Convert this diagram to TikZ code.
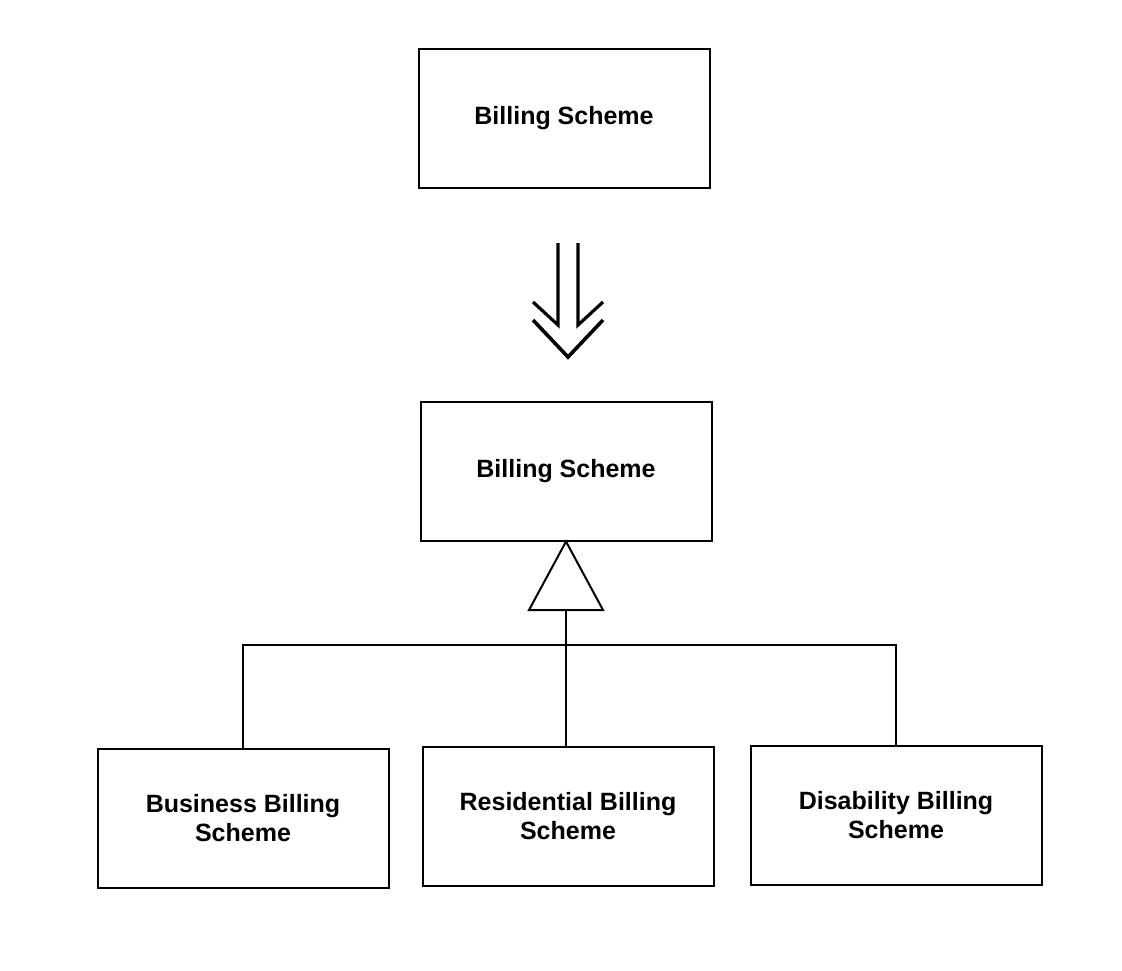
\documentclass[tikz,border=0pt]{standalone}
\usepackage{fontspec}
\setmainfont{Liberation Sans}
\begin{document}
\begin{tikzpicture}[x=0.5pt,y=-0.5pt,
    box/.style={draw, line width=1pt, minimum width=145.5pt, minimum height=69.5pt,
      align=center, font=\fontsize{12.5}{14.5}\selectfont\bfseries}]
    \useasboundingbox (0,0) rectangle (1122,970);

    \node[box] (top) at (564,118) {Billing Scheme};
    \node[box] (mid) at (566,471) {Billing Scheme};
    \node[box] (bus) at (243,818) {Business Billing\\Scheme};
    \node[box] (res) at (568,816) {Residential Billing\\Scheme};
    \node[box] (dis) at (896,815) {Disability Billing\\Scheme};

    % refinement arrow
    \coordinate (arr) at (568,243);
    \draw[line width=1.6pt] ([xshift=-5pt]arr) -- ++(0,82) -- ++(-25,-23);
    \draw[line width=1.6pt] ([xshift=5pt]arr) -- ++(0,82) -- ++(25,-23);
    \draw[line width=1.8pt] ([shift={(-35,77)}]arr) -- ++(35,37) -- ++(35,-37);

    % generalization
    \coordinate (tri) at (566,610);
    \coordinate (bar) at (566,645);
    \draw[line width=1pt] (mid.south) -- ([xshift=-18.5pt]tri) -- ([xshift=18.5pt]tri) -- cycle;
    \draw[line width=1pt] (tri) -- (tri |- res.north);
    \draw[line width=1pt] (bus.north) |- (bar) -| (dis.north);
  \end{tikzpicture}
\end{document}
